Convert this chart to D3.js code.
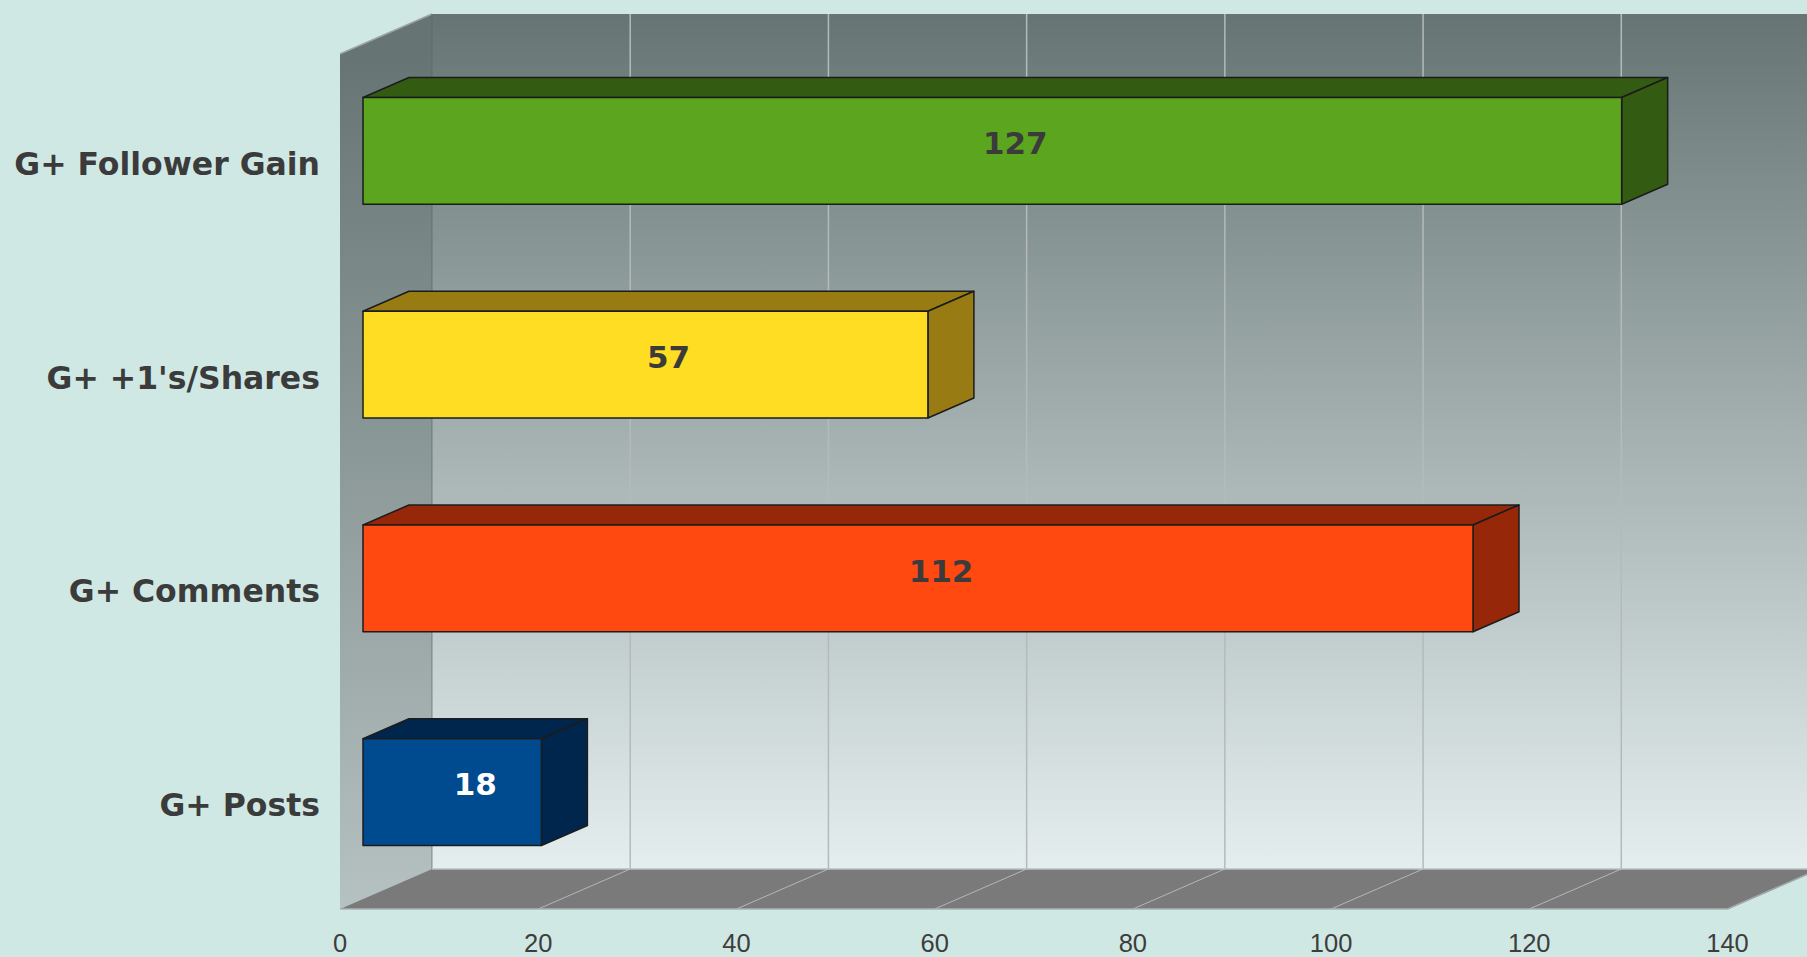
<!DOCTYPE html>
<html>
<head>
<meta charset="utf-8">
<script src="https://cdn.jsdelivr.net/npm/d3@7"></script>
<style>
  html, body { margin: 0; padding: 0; background: #d0e8e4; overflow: hidden; }
  svg { display: block; }
</style>
</head>
<body>
<script>
// data
const categories = ["G+ Follower Gain", "G+ +1's/Shares", "G+ Comments", "G+ Posts"];
const values = [127, 57, 112, 18];
const frontColors = ["#5ba51f", "#ffdd22", "#ff4911", "#004a8f"];
const sideColors = ["#335c12", "#987b12", "#962809", "#00264d"];
const labelColors = ["#3b3b3b", "#3b3b3b", "#3b3b3b", "#ffffff"];
const xTicks = [0, 20, 40, 60, 80, 100, 120, 140];

const W = 1807, H = 957;
const DX = 92, DY = 40; // depth offset of the 3d box

const svg = d3.select("body").append("svg")
  .attr("width", W).attr("height", H);

const x = d3.scaleLinear().domain([0, 140]).range([340, 1727.5]);
const y = d3.scaleBand().domain(categories).range([54, 909])
  .paddingInner(0.5).paddingOuter(0.25);

// project point at depth z (0 = front, 1 = back)
const px = (v, z) => x(v) + z * DX;
const py = (yy, z) => yy - z * DY;
const poly = pts => pts.map(p => p.join(",")).join(" ");

const defs = svg.append("defs");
const back = defs.append("linearGradient").attr("id", "backGrad")
  .attr("gradientUnits", "userSpaceOnUse")
  .attr("x1", 0).attr("y1", py(54, 1)).attr("x2", 0).attr("y2", py(909, 1));
back.append("stop").attr("offset", 0).attr("stop-color", "#667574");
back.append("stop").attr("offset", 1).attr("stop-color", "#e4eeee");

const side = defs.append("linearGradient").attr("id", "sideGrad")
  .attr("gradientUnits", "userSpaceOnUse")
  .attr("x1", 0).attr("y1", 54).attr("x2", 0).attr("y2", 909);
side.append("stop").attr("offset", 0).attr("stop-color", "#667574");
side.append("stop").attr("offset", 1).attr("stop-color", "#b6c1c1");

const y0 = 54, y1 = 909;

// back wall
svg.append("polygon")
  .attr("points", poly([[px(0, 1), py(y0, 1)], [px(140, 1), py(y0, 1)], [px(140, 1), py(y1, 1)], [px(0, 1), py(y1, 1)]]))
  .attr("fill", "url(#backGrad)");

// back wall grid
svg.append("g").selectAll("line").data(xTicks.slice(1)).join("line")
  .attr("x1", d => px(d, 1)).attr("x2", d => px(d, 1))
  .attr("y1", py(y0, 1)).attr("y2", py(y1, 1))
  .attr("stroke", "#b4baba").attr("stroke-width", 1.5);

// side wall
svg.append("polygon")
  .attr("points", poly([[px(0, 0), py(y0, 0)], [px(0, 1), py(y0, 1)], [px(0, 1), py(y1, 1)], [px(0, 0), py(y1, 0)]]))
  .attr("fill", "url(#sideGrad)");
svg.append("line")
  .attr("x1", px(0, 0)).attr("y1", py(y0, 0)).attr("x2", px(0, 1)).attr("y2", py(y0, 1))
  .attr("stroke", "#9aa3a3").attr("stroke-width", 1.5);
svg.append("line")
  .attr("x1", px(0, 1)).attr("x2", px(0, 1)).attr("y1", py(y0, 1)).attr("y2", py(y1, 1))
  .attr("stroke", "#5c6666").attr("stroke-opacity", 0.45).attr("stroke-width", 1.5);

// floor
svg.append("polygon")
  .attr("points", poly([[px(0, 0), py(y1, 0)], [px(140, 0), py(y1, 0)], [px(140, 1), py(y1, 1)], [px(0, 1), py(y1, 1)]]))
  .attr("fill", "#7a7a7a");
svg.append("g").selectAll("line").data(xTicks.slice(1)).join("line")
  .attr("x1", d => px(d, 0)).attr("y1", py(y1, 0))
  .attr("x2", d => px(d, 1)).attr("y2", py(y1, 1))
  .attr("stroke", "#b0b8b8").attr("stroke-width", 1);
svg.append("line")
  .attr("x1", px(0, 0)).attr("y1", py(y1, 0)).attr("x2", px(140, 0)).attr("y2", py(y1, 0))
  .attr("stroke", "#a9b3b3").attr("stroke-width", 1.5);
svg.append("line")
  .attr("x1", px(0, 1)).attr("y1", py(y1, 1)).attr("x2", px(140, 1)).attr("y2", py(y1, 1))
  .attr("stroke", "#b9c2c2").attr("stroke-width", 1.5);
svg.append("line")
  .attr("x1", px(140, 0)).attr("y1", py(y1, 0)).attr("x2", px(140, 1)).attr("y2", py(y1, 1))
  .attr("stroke", "#a0a8a8").attr("stroke-width", 1.5);

// bars (depth 0.25 .. 0.75)
const za = 0.25, zb = 0.75;
const bars = svg.append("g").selectAll("g").data(categories).join("g");
bars.each(function (c, i) {
  const g = d3.select(this);
  const t = y(c), b = y(c) + y.bandwidth(), v = values[i];
  const style = s => s.attr("stroke", "#1c1c1c").attr("stroke-width", 1.5).attr("stroke-linejoin", "round");
  // top face
  style(g.append("polygon")
    .attr("points", poly([[px(0, za), py(t, za)], [px(v, za), py(t, za)], [px(v, zb), py(t, zb)], [px(0, zb), py(t, zb)]]))
    .attr("fill", sideColors[i]));
  // right face
  style(g.append("polygon")
    .attr("points", poly([[px(v, za), py(t, za)], [px(v, zb), py(t, zb)], [px(v, zb), py(b, zb)], [px(v, za), py(b, za)]]))
    .attr("fill", sideColors[i]));
  // front face
  style(g.append("polygon")
    .attr("points", poly([[px(0, za), py(t, za)], [px(v, za), py(t, za)], [px(v, za), py(b, za)], [px(0, za), py(b, za)]]))
    .attr("fill", frontColors[i]));
  // value label
  g.append("text")
    .attr("x", (px(0, za) + px(v, zb)) / 2)
    .attr("y", (py(t, zb) + py(b, za)) / 2 + 2)
    .attr("dy", "0.36em")
    .attr("text-anchor", "middle")
    .attr("font-family", "DejaVu Sans, Verdana, sans-serif")
    .attr("font-weight", "bold")
    .attr("font-size", 31)
    .attr("fill", labelColors[i])
    .text(v);
});

// category labels
svg.append("g").selectAll("text").data(categories).join("text")
  .attr("x", 320)
  .attr("y", d => y(d) + y.bandwidth() / 2 + 2.7)
  .attr("dy", "0.36em")
  .attr("text-anchor", "end")
  .attr("font-family", "DejaVu Sans, Verdana, sans-serif")
  .attr("font-weight", "bold")
  .attr("font-size", 31.5)
  .attr("fill", "#3b3b3b")
  .text(d => d);

// x tick labels
svg.append("g").selectAll("text").data(xTicks).join("text")
  .attr("x", d => x(d))
  .attr("y", 943)
  .attr("dy", "0.36em")
  .attr("text-anchor", "middle")
  .attr("font-family", "Liberation Sans Narrow, Liberation Sans, Arial, sans-serif")
  .attr("font-size", 25.5)
  .attr("fill", "#3d3d3d")
  .text(d => d);
</script>
</body>
</html>
